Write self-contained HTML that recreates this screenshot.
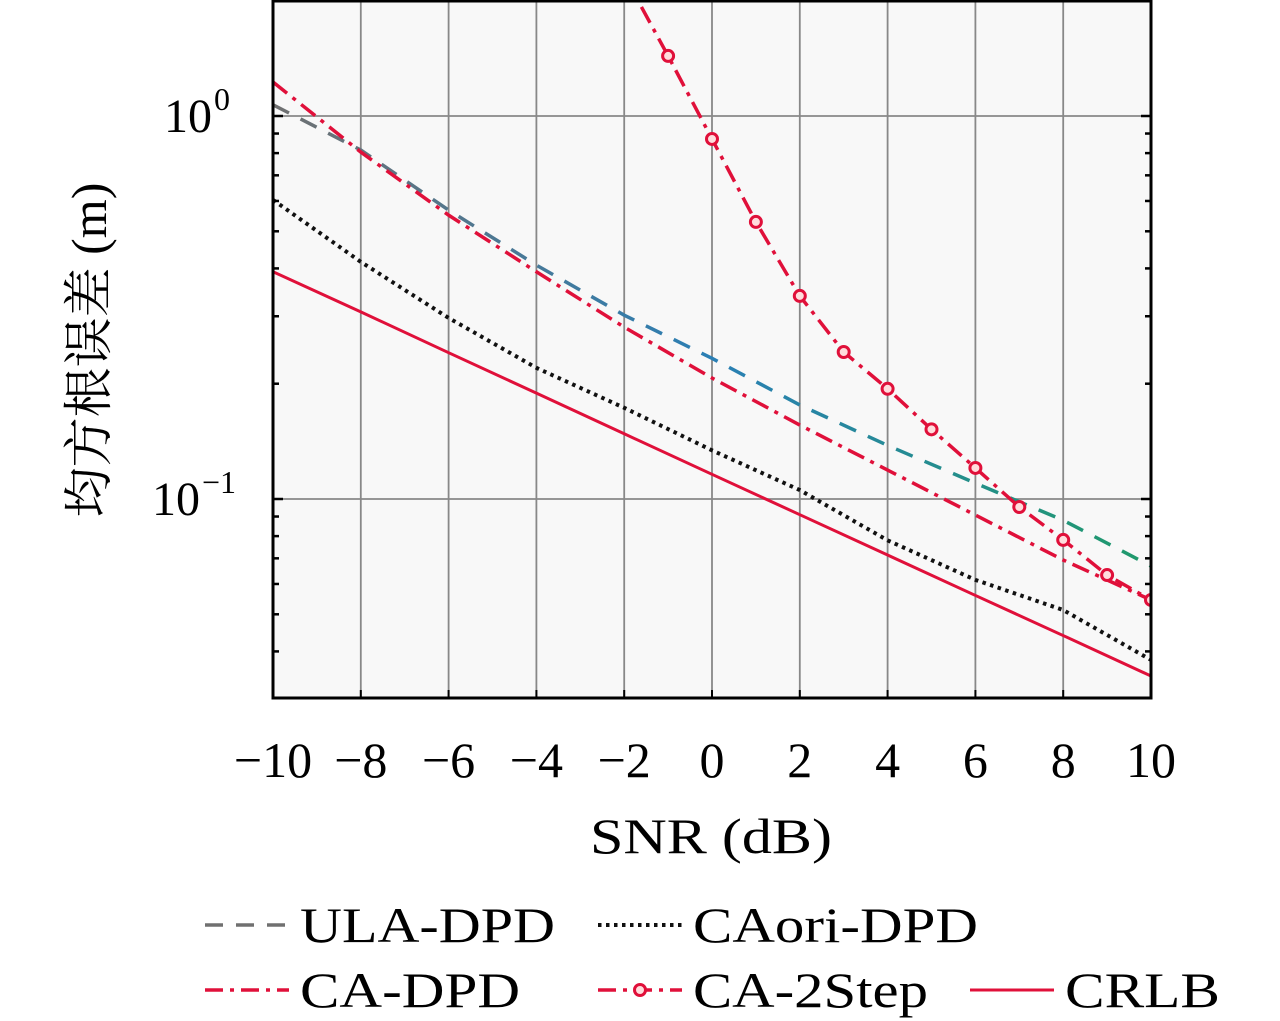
<!DOCTYPE html>
<html><head><meta charset="utf-8"><style>
html,body{margin:0;padding:0;background:#fff;}
svg{display:block;font-family:"Liberation Serif","Noto Serif CJK SC",serif;}
</style></head><body>
<svg id="chart" width="1280" height="1021" viewBox="0 0 1280 1021">
<defs>
<linearGradient id="ulaGrad" gradientUnits="userSpaceOnUse" x1="273" y1="0" x2="1151" y2="0">
<stop offset="0" stop-color="#707070"/><stop offset="0.5" stop-color="#2a7fb5"/><stop offset="1" stop-color="#1f9a6a"/>
</linearGradient>
<clipPath id="plotClip"><rect x="273" y="1" width="878" height="697"/></clipPath>
</defs>
<rect x="273" y="1" width="878" height="697" fill="#f8f8f8"/>
<g id="grid"></g>
<g id="series" clip-path="url(#plotClip)"></g>
<rect x="273" y="1" width="878" height="697" fill="none" stroke="#000" stroke-width="3"/>
<g id="axes"></g>
<text x="590" y="853" font-size="50" textLength="242" lengthAdjust="spacingAndGlyphs">SNR (dB)</text>
<text transform="translate(106,350) rotate(-90)" font-size="50" text-anchor="middle">均方根误差 (m)</text>
<g id="legend"></g>
</svg>
<script>
const snr = [-10,-8,-6,-4,-2,0,2,4,6,8,10];
const ulaDPD = [1.07,0.815,0.568,0.408,0.302,0.233,0.176,0.138,0.110,0.088,0.0668];
const caDPD = [1.227,0.805,0.551,0.392,0.281,0.207,0.156,0.119,0.0908,0.0693,0.0545];
const caoriDPD = [0.604,0.416,0.297,0.220,0.173,0.134,0.1055,0.078,0.0615,0.0513,0.038];
const crlb = [0.392,0.308,0.241,0.189,0.148,0.116,0.091,0.0714,0.056,0.044,0.0345];
const snr2Step = [-2,-1,0,1,2,3,4,5,6,7,8,9,10];
const ca2Step = [2.33,1.435,0.871,0.529,0.339,0.242,0.194,0.152,0.1205,0.0953,0.0782,0.0633,0.0545];
const xTicks = [-10,-8,-6,-4,-2,0,2,4,6,8,10];
const yDecades = [0,-1];

const NS="http://www.w3.org/2000/svg";
const X0=273,X1=1151,Ytop=1,Ybot=698;
function xs(v){return X0+(v+10)/20*(X1-X0);}
function ys(v){return 116-Math.log10(v)*383;}
function mk(tag,attrs,parent){const e=document.createElementNS(NS,tag);for(const k in attrs)e.setAttribute(k,attrs[k]);parent.appendChild(e);return e;}
const grid=document.getElementById('grid'),axes=document.getElementById('axes'),ser=document.getElementById('series'),leg=document.getElementById('legend');

xTicks.forEach(t=>{
 const x=xs(t);
 if(t>-10&&t<10){const l=mk('line',{x1:x,x2:x,y1:Ytop,y2:Ybot,stroke:'#888','stroke-width':1.8},grid);
 
 }
 const tk=mk('line',{x1:x,x2:x,y1:Ybot,y2:Ybot-8,stroke:'#000','stroke-width':2},axes);
 
 
 const tx=mk('text',{x:x,y:777,'font-size':50,'text-anchor':'middle'},axes);
 tx.textContent=(t<0?'\u2212'+(-t):''+t);
 
 
});
yDecades.forEach(d=>{
 const y=ys(Math.pow(10,d));
 const l=mk('line',{x1:X0,x2:X1,y1:y,y2:y,stroke:'#888','stroke-width':1.8},grid);
 
 
 const tx=mk('text',{x:d<0?200:212,y:y+16,'font-size':48,'text-anchor':'end'},axes);
 tx.textContent='10';
 
 
 const sp=mk('text',{x:d<0?202:214,y:y-6,'font-size':32,'text-anchor':'start'},axes);
 sp.textContent=(d<0?'\u2212'+(-d):''+d);
 
 
});
[-2,-1,0].forEach(d=>{for(let m=1;m<=9;m++){const v=m*Math.pow(10,d);const y=ys(v);if(y<Ytop||y>Ybot)continue;const len=m===1?10:6;
 [[X0,X0+len],[X1,X1-len]].forEach(p=>{const t=mk('line',{x1:p[0],x2:p[1],y1:y,y2:y,stroke:'#000','stroke-width':2.5},axes);
 
 });}});

function pts(xa,ya){return xa.map((x,i)=>xs(x)+','+ys(ya[i])).join(' ');}
const styles={
 ula:{stroke:'url(#ulaGrad)',dash:'18 13',w:3.5},
 caori:{stroke:'#111',dash:'3.5 4.5',w:4},
 ca:{stroke:'#e0103a',dash:'18 7 4 7',w:3.5},
 step:{stroke:'#e0103a',dash:'18 7 4 7',w:3.5},
 crlb:{stroke:'#e0103a',dash:'',w:3}
};
function series(name,xa,ya,st){
 const p=mk('polyline',{points:pts(xa,ya),fill:'none',stroke:st.stroke,'stroke-width':st.w,'stroke-dasharray':st.dash},ser);
 
 
}
series('crlb-line',snr,crlb,styles.crlb);
series('caori-dpd-line',snr,caoriDPD,styles.caori);
series('ula-dpd-line',snr,ulaDPD,styles.ula);
series('ca-dpd-line',snr,caDPD,styles.ca);
series('ca-2step-line',snr2Step,ca2Step,styles.step);
snr2Step.forEach((x,i)=>{if(x<-1)return;
 const c=mk('circle',{cx:xs(x),cy:ys(ca2Step[i]),r:5.5,fill:'#fdd','stroke':'#e0103a','stroke-width':3},ser);
 
 
});

const legItems=[
 {label:'ULA-DPD',st:{stroke:'#707070',dash:'18 13',w:3.5},x:205,y:925,n:'legend-entry-ula-dpd',L:255},
 {label:'CAori-DPD',st:styles.caori,x:598,y:925,n:'legend-entry-caori-dpd',L:285},
 {label:'CA-DPD',st:styles.ca,x:205,y:990,n:'legend-entry-ca-dpd',L:220},
 {label:'CA-2Step',st:styles.step,x:598,y:990,n:'legend-entry-ca-2step',m:1,L:235},
 {label:'CRLB',st:styles.crlb,x:970,y:990,n:'legend-entry-crlb',L:155}
];
legItems.forEach(it=>{
 const g=mk('g',{},leg);
 
 
 mk('line',{x1:it.x,x2:it.x+84,y1:it.y,y2:it.y,stroke:it.st.stroke,'stroke-width':it.st.w,'stroke-dasharray':it.st.dash},g);
 if(it.m)mk('circle',{cx:it.x+42,cy:it.y,r:5.5,fill:'#fdd',stroke:'#e0103a','stroke-width':3},g);
 const t=mk('text',{x:it.x+95,y:it.y+17,'font-size':50,textLength:it.L,lengthAdjust:'spacingAndGlyphs'},g);
 t.textContent=it.label;
});
</script>
</body></html>
